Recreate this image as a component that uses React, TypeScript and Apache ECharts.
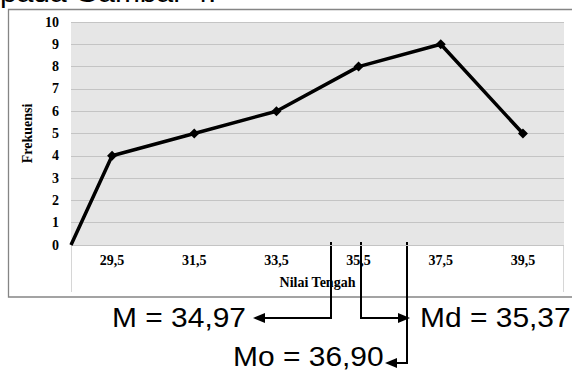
import React, { useEffect, useRef } from "react";
import * as echarts from "echarts";

// ---- data ----
const lowerBoundary = 28.5; // polygon starts at the lower class boundary with frequency 0
const upperBoundary = 40.5;
const nilaiTengah = [29.5, 31.5, 33.5, 35.5, 37.5, 39.5];
const frekuensi = [4, 5, 6, 8, 9, 5];
const xTickLabels = ["29,5", "31,5", "33,5", "35,5", "37,5", "39,5"];
const yMin = 0;
const yMax = 10;
const yStep = 1;
const headingText = "pada Gambar 4.";
const meanLabel = "M = 34,97";
const medianLabel = "Md = 35,37";
const modeLabel = "Mo = 36,90";

const serif = "'Liberation Serif', 'Times New Roman', serif";
const sans = "'Liberation Sans', Arial, sans-serif";

export default function App() {
  const ref = useRef<HTMLDivElement>(null);

  useEffect(() => {
    if (!ref.current) return;
    const chart = echarts.init(ref.current, undefined, { renderer: "svg" });

    const seriesData: any[] = [
      { value: [lowerBoundary, 0], symbol: "none" },
      ...nilaiTengah.map((x, i) => ({ value: [x, frekuensi[i]] })),
    ];

    const bigText = (text: string, x: number, y: number) => ({
      type: "text",
      x,
      y,
      scaleX: 1.07,
      style: {
        text,
        x: 0,
        y: 0,
        fill: "#000",
        fontSize: 28,
        fontFamily: sans,
        align: "left",
        verticalAlign: "middle",
      },
    });

    const lineStyle = { stroke: "#000", lineWidth: 2, fill: "none" };
    const labelFont = {
      fontFamily: serif,
      fontWeight: "bold" as const,
      fontSize: 14,
      color: "#000",
    };

    chart.setOption({
      animation: false,
      backgroundColor: "#fff",
      grid: {
        left: 71,
        right: 8,
        top: 22,
        bottom: 126,
        show: true,
        backgroundColor: "#e6e6e6",
        borderWidth: 0,
      },
      xAxis: {
        type: "value",
        min: lowerBoundary,
        max: upperBoundary,
        interval: 0.5,
        name: "Nilai Tengah",
        nameLocation: "middle",
        nameGap: 30,
        nameTextStyle: labelFont,
        axisLine: { show: false },
        axisTick: { show: false },
        splitLine: { show: false },
        axisLabel: {
          margin: 8,
          ...labelFont,
          formatter: (v: number) => {
            const idx = nilaiTengah.findIndex((m) => Math.abs(m - v) < 1e-6);
            return idx >= 0 ? xTickLabels[idx] : "";
          },
        },
      },
      yAxis: {
        type: "value",
        min: yMin,
        max: yMax,
        interval: yStep,
        name: "Frekuensi",
        nameLocation: "middle",
        nameGap: 32,
        nameTextStyle: labelFont,
        axisLine: { show: false },
        axisTick: { show: false },
        splitLine: { show: true, lineStyle: { color: "#c4c4c4", width: 1 } },
        axisLabel: {
          margin: 12,
          ...labelFont,
        },
      },
      series: [
        {
          type: "line",
          data: seriesData,
          symbol: "diamond",
          symbolSize: 10,
          lineStyle: { color: "#000", width: 3.5 },
          itemStyle: { color: "#000" },
          z: 3,
        },
      ],
      graphic: [
        // outer chart frame
        {
          type: "rect",
          shape: { x: 8.5, y: 9.5, width: 620, height: 287.5 },
          style: { fill: "none", stroke: "#858585", lineWidth: 1.3 },
          silent: true,
        },
        // boundary lines below plot area
        {
          type: "line",
          shape: { x1: 71.5, y1: 245, x2: 71.5, y2: 292 },
          style: { stroke: "#d6d6d6", lineWidth: 1 },
        },
        {
          type: "line",
          shape: { x1: 563.5, y1: 245, x2: 563.5, y2: 292 },
          style: { stroke: "#d6d6d6", lineWidth: 1 },
        },
        // partially visible heading
        bigText(headingText, 0, -8),
        // mean arrow
        {
          type: "polyline",
          shape: { points: [[331, 242], [331, 318], [262, 318]] },
          style: lineStyle,
        },
        {
          type: "polygon",
          shape: { points: [[253, 318], [265, 313], [265, 323]] },
          style: { fill: "#000" },
        },
        // median arrow
        {
          type: "polyline",
          shape: { points: [[361, 242], [361, 318], [400, 318]] },
          style: lineStyle,
        },
        {
          type: "polygon",
          shape: { points: [[410, 318], [398, 313], [398, 323]] },
          style: { fill: "#000" },
        },
        // mode arrow
        {
          type: "polyline",
          shape: { points: [[407, 242], [407, 363], [394, 363]] },
          style: lineStyle,
        },
        {
          type: "polygon",
          shape: { points: [[385, 363], [397, 358], [397, 368]] },
          style: { fill: "#000" },
        },
        bigText(meanLabel, 112, 317),
        bigText(medianLabel, 420, 317),
        bigText(modeLabel, 233, 356),
      ],
    });

    return () => chart.dispose();
  }, []);

  return (
    <div
      ref={ref}
      style={{
        position: "absolute",
        left: 0,
        top: 0,
        width: 572,
        height: 371,
        background: "#fff",
      }}
    />
  );
}
